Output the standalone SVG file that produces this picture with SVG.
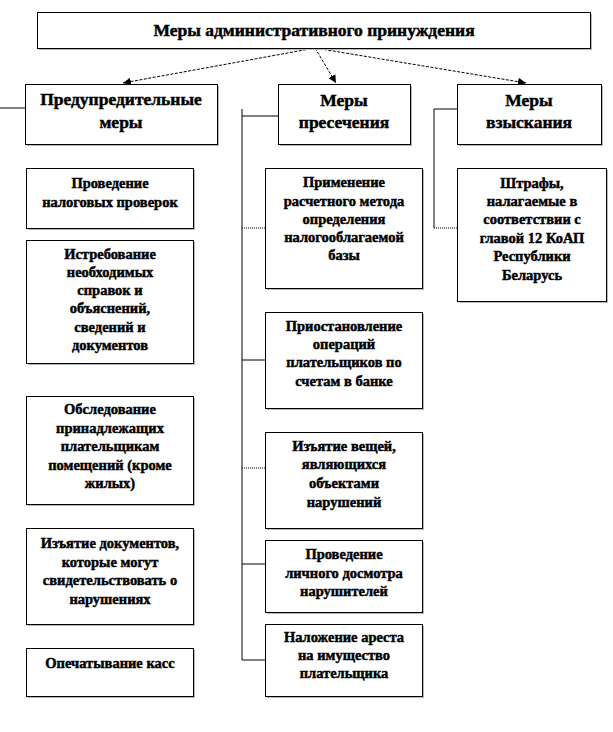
<svg xmlns="http://www.w3.org/2000/svg" width="613" height="732" viewBox="0 0 613 732">
<style>
.box{fill:#fff;stroke:#000;stroke-width:1}
.sh{fill:#b8b8b8}
text{font-family:"Liberation Serif","Times New Roman",serif;font-weight:bold;fill:#000;text-anchor:middle;stroke:#000;stroke-width:0.45}
.t1{font-size:17.5px}
.t2{font-size:17.5px}
.t3{font-size:14.5px}
.ln{stroke:#000;stroke-width:1;fill:none}
.dt{stroke:#000;stroke-width:1;fill:none;stroke-dasharray:1,1}
.ar{stroke:#000;stroke-width:1;fill:none;stroke-dasharray:3,1.5}
</style>
<defs>
<marker id="ah" viewBox="0 0 10 10" refX="10" refY="5" markerWidth="8" markerHeight="8" orient="auto" markerUnits="userSpaceOnUse">
<path d="M0,0 L10,5 L0,10 z" fill="#000"/>
</marker>
</defs>
<rect width="613" height="732" fill="#fff"/>

<g id="connectors">
<line class="ar" x1="315" y1="48" x2="123" y2="83" marker-end="url(#ah)"/>
<line class="ar" x1="315" y1="48" x2="336" y2="83" marker-end="url(#ah)"/>
<line class="ar" x1="315" y1="48" x2="526" y2="83" marker-end="url(#ah)"/>
<line class="ln" x1="0" y1="108" x2="25" y2="108"/>
<line class="ln" x1="242" y1="109" x2="242" y2="660"/>
<line class="ln" x1="242" y1="116" x2="278" y2="116"/>
<line class="dt" x1="242" y1="228" x2="265" y2="228"/>
<line class="ln" x1="242" y1="360" x2="265" y2="360"/>
<line class="dt" x1="242" y1="468" x2="265" y2="468"/>
<line class="ln" x1="242" y1="564" x2="265" y2="564"/>
<line class="ln" x1="242" y1="660" x2="265" y2="660"/>
<line class="ln" x1="434" y1="109" x2="434" y2="228"/>
<line class="ln" x1="434" y1="109" x2="457" y2="109"/>
<line class="dt" x1="434" y1="228" x2="457" y2="228"/>
</g>

<g id="root">
<rect class="sh" x="39" y="14" width="553" height="36"/>
<rect class="box" x="37.5" y="12.5" width="553" height="36"/>
<text class="t1" x="314" y="36">Меры административного принуждения</text>
</g>

<g id="prev">
<rect class="sh" x="27" y="86" width="192" height="60"/>
<rect class="box" x="25.5" y="84.5" width="192" height="60"/>
<text class="t2" x="121" y="105">Предупредительные</text>
<text class="t2" x="121" y="128">меры</text>
</g>

<g id="pres">
<rect class="sh" x="280" y="86" width="132" height="60"/>
<rect class="box" x="278.5" y="84.5" width="132" height="60"/>
<text class="t2" x="344" y="106">Меры</text>
<text class="t2" x="344" y="128">пресечения</text>
</g>

<g id="vzysk">
<rect class="sh" x="459" y="86" width="144" height="60"/>
<rect class="box" x="457.5" y="84.5" width="144" height="60"/>
<text class="t2" x="529" y="106">Меры</text>
<text class="t2" x="529" y="128">взыскания</text>
</g>

<g id="l1">
<rect class="sh" x="28" y="170" width="167" height="60"/>
<rect class="box" x="26.5" y="168.5" width="167" height="60"/>
<text class="t3" x="110" y="188">Проведение</text>
<text class="t3" x="110" y="207">налоговых проверок</text>
</g>

<g id="l2">
<rect class="sh" x="28" y="242" width="167" height="123"/>
<rect class="box" x="26.5" y="240.5" width="167" height="123"/>
<text class="t3" x="110" y="259">Истребование</text>
<text class="t3" x="110" y="277">необходимых</text>
<text class="t3" x="110" y="295">справок и</text>
<text class="t3" x="110" y="313">объяснений,</text>
<text class="t3" x="110" y="332">сведений и</text>
<text class="t3" x="110" y="350">документов</text>
</g>

<g id="l3">
<rect class="sh" x="28" y="398" width="167" height="108"/>
<rect class="box" x="26.5" y="396.5" width="167" height="108"/>
<text class="t3" x="110" y="414">Обследование</text>
<text class="t3" x="110" y="433">принадлежащих</text>
<text class="t3" x="110" y="451">плательщикам</text>
<text class="t3" x="110" y="470">помещений (кроме</text>
<text class="t3" x="110" y="488">жилых)</text>
</g>

<g id="l4">
<rect class="sh" x="28" y="530" width="167" height="96"/>
<rect class="box" x="26.5" y="528.5" width="167" height="96"/>
<text class="t3" x="110" y="548">Изъятие документов,</text>
<text class="t3" x="110" y="567">которые могут</text>
<text class="t3" x="110" y="585">свидетельствовать о</text>
<text class="t3" x="110" y="604">нарушениях</text>
</g>

<g id="l5">
<rect class="sh" x="28" y="650" width="167" height="48"/>
<rect class="box" x="26.5" y="648.5" width="167" height="48"/>
<text class="t3" x="110" y="668">Опечатывание касс</text>
</g>

<g id="m1">
<rect class="sh" x="267" y="170" width="157" height="120"/>
<rect class="box" x="265.5" y="168.5" width="157" height="120"/>
<text class="t3" x="344" y="187">Применение</text>
<text class="t3" x="344" y="206">расчетного метода</text>
<text class="t3" x="344" y="224">определения</text>
<text class="t3" x="344" y="242">налогооблагаемой</text>
<text class="t3" x="344" y="260">базы</text>
</g>

<g id="m2">
<rect class="sh" x="267" y="314" width="157" height="96"/>
<rect class="box" x="265.5" y="312.5" width="157" height="96"/>
<text class="t3" x="344" y="331">Приостановление</text>
<text class="t3" x="344" y="349">операций</text>
<text class="t3" x="344" y="367">плательщиков по</text>
<text class="t3" x="344" y="386">счетам в банке</text>
</g>

<g id="m3">
<rect class="sh" x="267" y="434" width="157" height="96"/>
<rect class="box" x="265.5" y="432.5" width="157" height="96"/>
<text class="t3" x="344" y="451">Изъятие вещей,</text>
<text class="t3" x="344" y="469">являющихся</text>
<text class="t3" x="344" y="488">объектами</text>
<text class="t3" x="344" y="507">нарушений</text>
</g>

<g id="m4">
<rect class="sh" x="267" y="542" width="157" height="72"/>
<rect class="box" x="265.5" y="540.5" width="157" height="72"/>
<text class="t3" x="344" y="559">Проведение</text>
<text class="t3" x="344" y="578">личного досмотра</text>
<text class="t3" x="344" y="596">нарушителей</text>
</g>

<g id="m5">
<rect class="sh" x="267" y="626" width="157" height="72"/>
<rect class="box" x="265.5" y="624.5" width="157" height="72"/>
<text class="t3" x="344" y="642">Наложение ареста</text>
<text class="t3" x="344" y="660">на имущество</text>
<text class="t3" x="344" y="678">плательщика</text>
</g>

<g id="r1">
<rect class="sh" x="459" y="170" width="149" height="133"/>
<rect class="box" x="457.5" y="168.5" width="149" height="133"/>
<text class="t3" x="532" y="188">Штрафы,</text>
<text class="t3" x="532" y="206">налагаемые в</text>
<text class="t3" x="532" y="224">соответствии с</text>
<text class="t3" x="532" y="243">главой 12 КоАП</text>
<text class="t3" x="532" y="261">Республики</text>
<text class="t3" x="532" y="280">Беларусь</text>
</g>
</svg>
